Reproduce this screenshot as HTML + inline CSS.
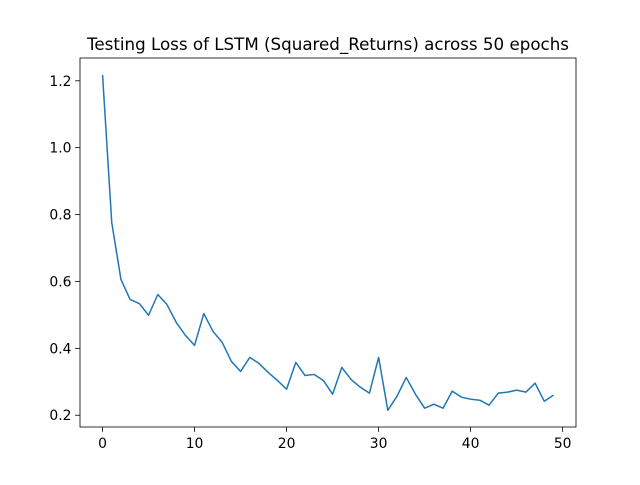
<!DOCTYPE html>
<html><head><meta charset="utf-8"><style>
body{margin:0;background:#fff}
svg text{font-family:"DejaVu Sans","Liberation Sans",sans-serif;fill:#000}
</style></head><body>
<svg id="chart" width="640" height="480">
<rect width="640" height="480" fill="#fff"/>
<text x="328" y="50" text-anchor="middle" font-size="16.7">Testing Loss of LSTM (Squared_Returns) across 50 epochs</text>
<g id="ticks"></g>
<path id="line" fill="none" stroke="#1f77b4" stroke-width="1.5" stroke-linejoin="round"/>
<rect x="80" y="58" width="496" height="369" fill="none" stroke="#000" stroke-width="0.8"/>
</svg>
<script>
const epochs=[...Array(50).keys()];
const losses=[1.218,0.776,0.606,0.546,0.534,0.499,0.561,0.531,0.478,0.439,0.409,0.504,0.451,0.418,0.361,0.331,0.373,0.355,0.328,0.304,0.278,0.358,0.319,0.322,0.304,0.263,0.343,0.307,0.284,0.266,0.373,0.215,0.257,0.313,0.263,0.221,0.233,0.221,0.272,0.254,0.248,0.245,0.230,0.266,0.269,0.275,0.269,0.296,0.242,0.260];
const xTicks=[0,10,20,30,40,50];
const yTicks=[0.2,0.4,0.6,0.8,1.0,1.2];
const L=80,R=576,T=58,B=427;
const xmin=-2.45,xmax=51.45;
const lo=Math.min(...losses),hi=Math.max(...losses),pad=(hi-lo)*0.05;
const ymin=lo-pad,ymax=hi+pad;
const sx=v=>L+(v-xmin)/(xmax-xmin)*(R-L);
const sy=v=>B-(v-ymin)/(ymax-ymin)*(B-T);
const NS="http://www.w3.org/2000/svg";
const g=document.getElementById('ticks');
function mk(t,a){const e=document.createElementNS(NS,t);for(const k in a)e.setAttribute(k,a[k]);g.appendChild(e);return e;}
xTicks.forEach(v=>{const x=sx(v);
const l=mk('line',{x1:x,x2:x,y1:B,y2:B+4.9,stroke:'#000','stroke-width':0.8});


const t=mk('text',{x:x,y:B+21,'text-anchor':'middle','font-size':13.9});t.textContent=v;

});
yTicks.forEach(v=>{const y=sy(v);
const l=mk('line',{x1:L-4.9,x2:L,y1:y,y2:y,stroke:'#000','stroke-width':0.8});


const t=mk('text',{x:L-8.5,y:y+5,'text-anchor':'end','font-size':13.9});t.textContent=v.toFixed(1);

});
document.getElementById('line').setAttribute('d',losses.map((v,i)=>(i?'L':'M')+sx(epochs[i])+','+sy(v)).join(''));
</script>
</body></html>
